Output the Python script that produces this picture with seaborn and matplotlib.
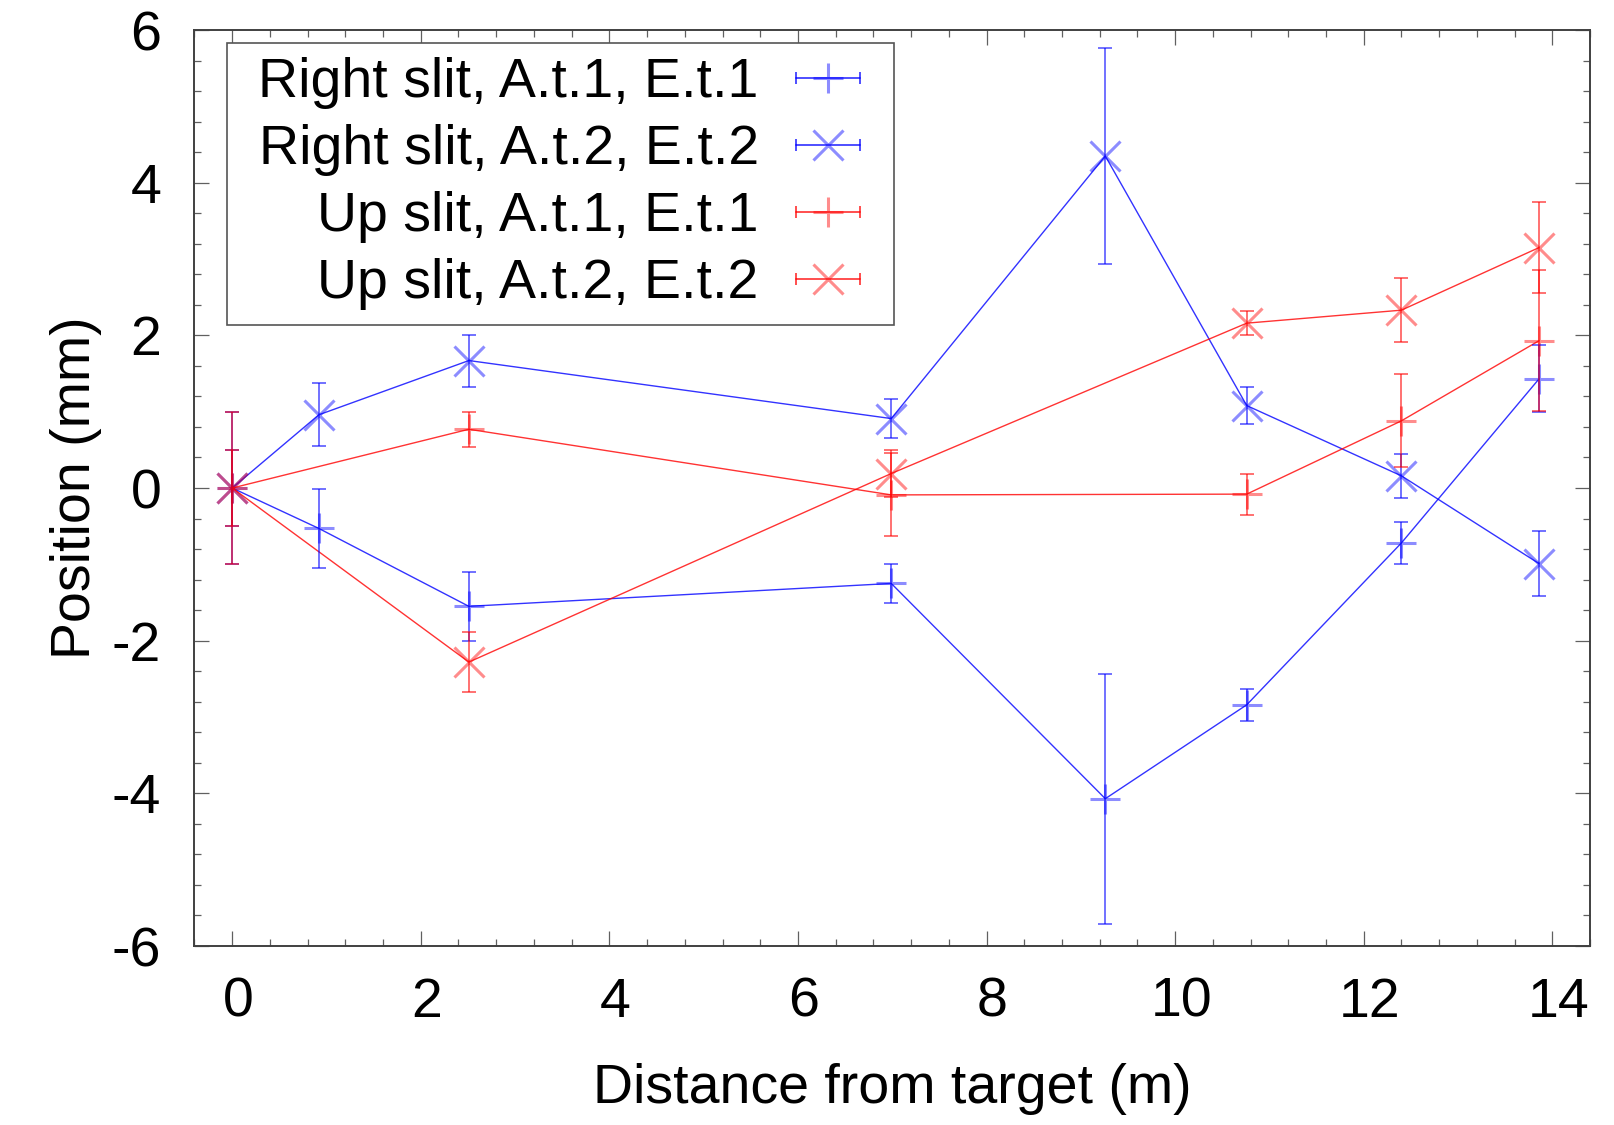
import numpy as np
import pandas as pd
import matplotlib
matplotlib.use("Agg")
import matplotlib.pyplot as plt
import seaborn as sns
from matplotlib.lines import Line2D
from matplotlib.path import Path
from matplotlib.ticker import MultipleLocator
from matplotlib.transforms import ScaledTranslation
from matplotlib.legend_handler import HandlerLine2D, HandlerTuple

# Measured beam positions vs. distance from the target
right_dist = [0.0, 0.92, 2.51, 6.99, 9.26, 10.76, 12.40, 13.86]
up_dist = [0.0, 2.51, 6.99, 10.76, 12.40, 13.86]

right_at1 = [0.0, -0.53, -1.55, -1.25, -4.07, -2.84, -0.72, 1.43]
right_at1_err = [1.0, 0.52, 0.45, 0.26, 1.64, 0.21, 0.28, 0.44]
right_at2 = [0.0, 0.96, 1.67, 0.91, 4.35, 1.08, 0.16, -0.99]
right_at2_err = [0.5, 0.41, 0.34, 0.26, 1.41, 0.24, 0.29, 0.43]
up_at1 = [0.0, 0.77, -0.09, -0.08, 0.88, 1.93]
up_at1_err = [0.5, 0.23, 0.545, 0.27, 0.61, 0.92]
up_at2 = [0.0, -2.28, 0.19, 2.16, 2.33, 3.15]
up_at2_err = [1.0, 0.39, 0.31, 0.16, 0.42, 0.60]

series_names = ["Right slit, A.t.1, E.t.1", "Right slit, A.t.2, E.t.2",
                "Up slit, A.t.1, E.t.1", "Up slit, A.t.2, E.t.2"]
series_colors = ["#0000ff", "#0000ff", "#ff0000", "#ff0000"]
series_markers = ["+", "x", "+", "x"]

x_label = "Distance from target (m)"
y_label = "Position (mm)"

frames = []
for name, xs, ys, es in zip(series_names,
                            [right_dist, right_dist, up_dist, up_dist],
                            [right_at1, right_at2, up_at1, up_at2],
                            [right_at1_err, right_at2_err, up_at1_err, up_at2_err]):
    frames.append(pd.DataFrame({"distance": xs, "position": ys, "err": es, "series": name}))
df = pd.concat(frames, ignore_index=True)

FS = 40

sns.set_style("ticks")
plt.rcParams["font.family"] = ["Liberation Sans", "DejaVu Sans"]
plt.rcParams["font.size"] = FS
plt.rcParams["axes.unicode_minus"] = False
plt.rcParams["text.color"] = "black"
plt.rcParams["axes.labelcolor"] = "black"
plt.rcParams["xtick.labelcolor"] = "black"
plt.rcParams["ytick.labelcolor"] = "black"

fig = plt.figure(figsize=(16.14, 11.25), dpi=100)
ax = fig.add_axes([0.1205, 0.1591, 0.8646, 0.8142])

palette = dict(zip(series_names, series_colors))
markers = dict(zip(series_names, series_markers))

sns.lineplot(data=df, x="distance", y="position", hue="series", style="series",
             hue_order=series_names, style_order=series_names,
             palette=palette, markers=markers, dashes=False,
             estimator=None, sort=False, errorbar=None, legend=False,
             linewidth=1.0, markersize=21, ax=ax)

for line, c in zip(ax.lines, series_colors):
    rgba = matplotlib.colors.to_rgba(c, 0.45)
    line.set_markeredgecolor(rgba)
    line.set_markerfacecolor(rgba)
    line.set_markeredgewidth(2.2)
    line.set_color(matplotlib.colors.to_rgba(c, 0.8))

for name, c in zip(series_names, series_colors):
    sub = df[df["series"] == name]
    ax.errorbar(sub["distance"], sub["position"], yerr=sub["err"], fmt="none",
                ecolor=matplotlib.colors.to_rgba(c, 0.65), elinewidth=1.2,
                capsize=4.8, capthick=1.2)

ax.set_xlim(-0.4, 14.4)
ax.set_ylim(-6, 6)
ax.xaxis.set_major_locator(MultipleLocator(2))
ax.xaxis.set_minor_locator(MultipleLocator(0.4))
ax.yaxis.set_major_locator(MultipleLocator(2))
ax.yaxis.set_minor_locator(MultipleLocator(0.4))

ax.tick_params(which="both", direction="in", top=True, right=True,
               color="#606060", width=0.9)
ax.tick_params(which="major", length=10.8)
ax.tick_params(which="minor", length=5.0)
ax.tick_params(axis="x", which="major", pad=22, labelsize=FS)
ax.tick_params(axis="y", which="major", pad=24, labelsize=FS)

# nudge the distance labels slightly to the right of their ticks
shift = ScaledTranslation(6 / 100, 0, fig.dpi_scale_trans)
for lab in ax.get_xticklabels():
    lab.set_transform(lab.get_transform() + shift)

for sp in ax.spines.values():
    sp.set_visible(True)
    sp.set_color("#404040")
    sp.set_linewidth(1.4)

ax.set_xlabel(x_label, fontsize=FS, labelpad=24.5)
ax.set_ylabel(y_label, fontsize=FS, labelpad=7)

# Key: label on the left, a capped sample line with the point symbol on the right
handles = []
handler_map = {}
for c, m in zip(series_colors, series_markers):
    cap_line = Line2D([], [], color=matplotlib.colors.to_rgba(c, 0.75), lw=1.3,
                      marker="|", markersize=9, markeredgewidth=1.3)
    sym = Line2D([], [], linestyle="none", marker=m, markersize=21,
                 markeredgewidth=2.2, markeredgecolor=matplotlib.colors.to_rgba(c, 0.45))
    handler_map[cap_line] = HandlerLine2D(numpoints=2, marker_pad=0)
    handles.append((cap_line, sym))
handler_map[tuple] = HandlerTuple(ndivide=1)

leg = ax.legend(handles, series_names, handler_map=handler_map,
                loc="upper left", bbox_to_anchor=(0.0354, 0.9858),
                borderaxespad=0, markerfirst=False, fontsize=FS,
                handlelength=1.15, handletextpad=0.68, borderpad=0.26,
                labelspacing=0.27, fancybox=False, framealpha=1,
                edgecolor="#555555", numpoints=1)
leg.get_frame().set_linewidth(1.2)
for t in leg.get_texts():
    t.set_horizontalalignment("right")
    t.set_color("black")


def wide_square(x0, y0, width, height, mutation_size):
    dl = 0.30 * mutation_size
    dr = 0.35 * mutation_size
    verts = [(x0 - dl, y0), (x0 + width + dr, y0), (x0 + width + dr, y0 + height),
             (x0 - dl, y0 + height), (x0 - dl, y0)]
    codes = [Path.MOVETO, Path.LINETO, Path.LINETO, Path.LINETO, Path.CLOSEPOLY]
    return Path(verts, codes)


leg.legendPatch.set_boxstyle(wide_square)

fig.savefig("out.png", dpi=100, facecolor="white")
